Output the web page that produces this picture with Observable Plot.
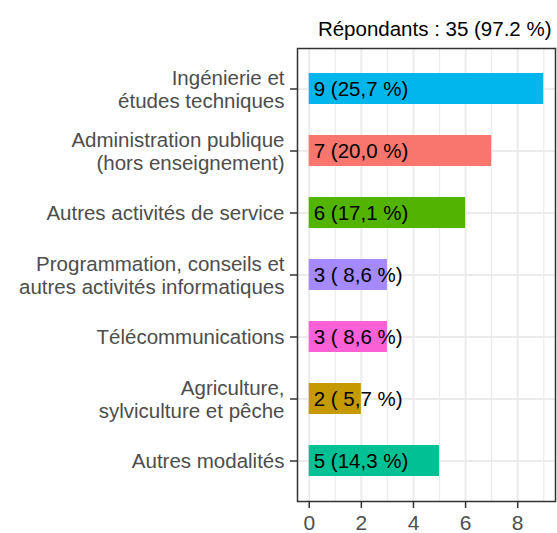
<!DOCTYPE html>
<html><head><meta charset="utf-8">
<script src="https://cdn.jsdelivr.net/npm/d3@7"></script>
<script src="https://cdn.jsdelivr.net/npm/@observablehq/plot@0.6"></script>
<style>
body{margin:0;background:#fff}
svg text{white-space:pre}
</style>
</head><body><div id="chart"></div>
<script>
const categories = [
  "Ingénierie et\nétudes techniques",
  "Administration publique\n(hors enseignement)",
  "Autres activités de service",
  "Programmation, conseils et\nautres activités informatiques",
  "Télécommunications",
  "Agriculture,\nsylviculture et pêche",
  "Autres modalités"
];
const counts = [9, 7, 6, 3, 3, 2, 5];
const percents = [25.7, 20.0, 17.1, 8.6, 8.6, 5.7, 14.3];
const colors = ["#00B6EB", "#F8766D", "#53B400", "#A58AFF", "#FB61D7", "#C49A00", "#00C094"];
const xMajor = [0, 2, 4, 6, 8];
const xMinor = [1, 3, 5, 7, 9];
const title = "Répondants : 35 (97.2 %)";

const data = categories.map((c, i) => ({
  cat: c,
  n: counts[i],
  zero: 0,
  label: `${counts[i]} (${percents[i].toFixed(1).replace(".", ",").padStart(4, " ")} %)`
}));

const font = "'Liberation Sans', Arial, sans-serif";

const plot = Plot.plot({
  width: 557,
  height: 533,
  marginLeft: 297,
  marginRight: 2,
  marginTop: 48,
  marginBottom: 32,
  style: {fontFamily: font, background: "#fff"},
  x: {domain: [-0.45, 9.45], label: null},
  y: {domain: categories, paddingInner: 0.5, paddingOuter: 0.35, label: null},
  color: {domain: categories, range: colors},
  marks: [
    Plot.gridX({ticks: xMinor, stroke: "#ebebeb", strokeOpacity: 1, strokeWidth: 1.2}),
    Plot.gridX({ticks: xMajor, stroke: "#ebebeb", strokeOpacity: 1, strokeWidth: 2}),
    Plot.gridY({stroke: "#ebebeb", strokeOpacity: 1, strokeWidth: 2}),
    Plot.barX(data, {x: "n", y: "cat", fill: "cat"}),
    Plot.text(data, {x: "zero", y: "cat", text: "label", textAnchor: "start", dx: 4.5, fill: "black", fontSize: 20.5}),
    Plot.frame({stroke: "#333333", strokeWidth: 1.5}),
    Plot.axisY({tickSize: 7, tickPadding: 6, stroke: "#333333", strokeWidth: 1.5, fill: "#4d4d4d", fontSize: 20.5, lineHeight: 1.12, label: null}),
    Plot.axisX({ticks: xMajor, tickSize: 7, tickPadding: 7, stroke: "#333333", strokeWidth: 1.5, fill: "#4d4d4d", fontSize: 21, label: null}),
    Plot.text([title], {frameAnchor: "top-right", textAnchor: "end", dx: -4, dy: -27, fontSize: 20.5, fill: "black"})
  ]
});
document.getElementById("chart").appendChild(plot);
</script>
</body></html>
